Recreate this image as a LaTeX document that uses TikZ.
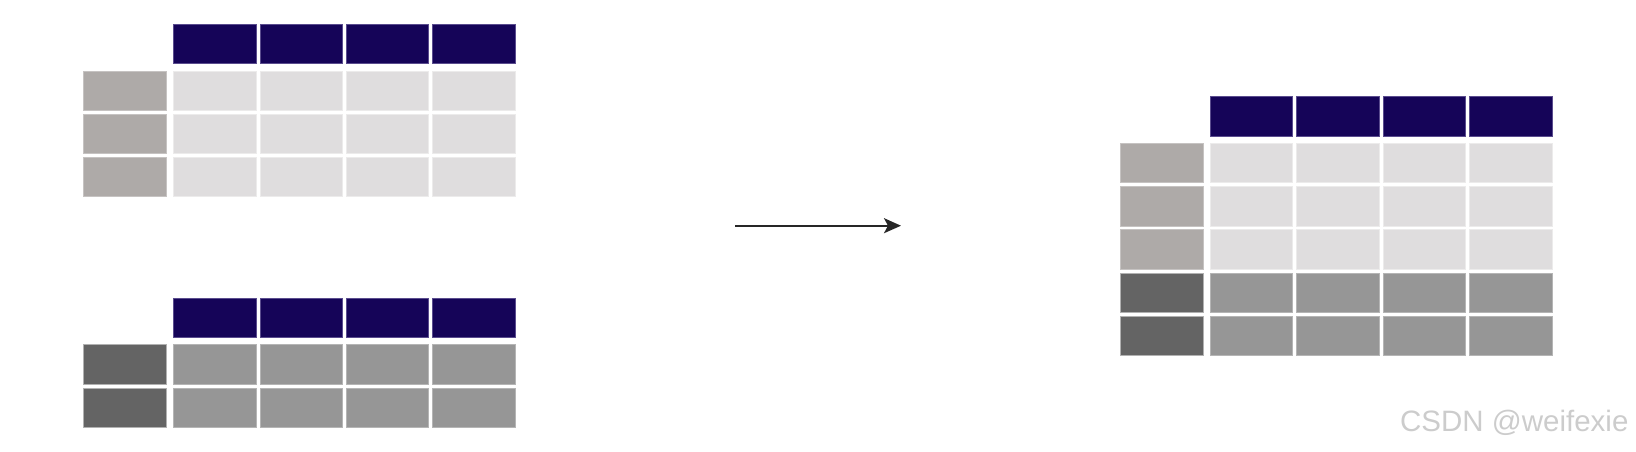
\documentclass[tikz,border=0pt]{standalone}
\usepackage{fontspec}
\setmainfont{Liberation Sans}
\usetikzlibrary{arrows.meta}
\definecolor{hdr}{HTML}{150458}
\definecolor{hdredge}{HTML}{5A4C8E}
\definecolor{lightcell}{HTML}{DFDDDE}
\definecolor{lightidx}{HTML}{AEAAA8}
\definecolor{darkcell}{HTML}{969696}
\definecolor{darkidx}{HTML}{646464}
\definecolor{wm}{HTML}{CCCCCC}
\tikzset{
  cellbox/.style={anchor=north west, inner sep=0pt, outer sep=0pt, minimum width=82.4pt, minimum height=39.4pt, line width=0.6pt},
  hdrcell/.style={cellbox, fill=hdr, draw=hdredge},
  lcell/.style={cellbox, fill=lightcell, draw=lightcell!60!white},
  lidx/.style={cellbox, fill=lightidx, draw=lightidx!70!white, minimum width=82.8pt},
  dcell/.style={cellbox, fill=darkcell, draw=darkcell!70!white},
  didx/.style={cellbox, fill=darkidx, draw=darkidx!50!white, minimum width=82.8pt},
  flow/.style={line width=2pt, draw=black!85, -{Stealth[length=17pt,width=15pt,inset=4pt]}},
  watermark/.style={font=\fontsize{29.5}{31}\selectfont, text=wm}
}
\begin{document}
\begin{tikzpicture}[x=1pt,y=-1pt]
\useasboundingbox (0,0) rectangle (1636,452);
% top-left table
\foreach \c in {0,...,3}{
  \node[hdrcell] (ah\c) at ({173.6+86.3*\c},24.3) {};
}
\foreach \r/\y in {0/71.3,1/114.3,2/157.3}{
  \node[lidx] (ai\r) at (83.6,\y) {};
  \foreach \c in {0,...,3}{
    \node[lcell] (a\r\c) at ({173.6+86.3*\c},\y) {};
  }
}
% bottom-left table
\foreach \c in {0,...,3}{
  \node[hdrcell] (bh\c) at ({173.6+86.3*\c},298.3) {};
}
\foreach \r/\y in {0/344.6,1/387.8}{
  \node[didx] (bi\r) at (83.6,\y) {};
  \foreach \c in {0,...,3}{
    \node[dcell] (b\r\c) at ({173.6+86.3*\c},\y) {};
  }
}
% right table
\foreach \c in {0,...,3}{
  \node[hdrcell] (ch\c) at ({1210.3+86.4*\c},96.6) {};
}
\foreach \r/\y in {0/143.3,1/186.5,2/229.6}{
  \node[lidx] (ci\r) at (1120.3,\y) {};
  \foreach \c in {0,...,3}{
    \node[lcell] (c\r\c) at ({1210.3+86.4*\c},\y) {};
  }
}
\foreach \r/\y in {3/272.8,4/315.8}{
  \node[didx] (ci\r) at (1120.3,\y) {};
  \foreach \c in {0,...,3}{
    \node[dcell] (c\r\c) at ({1210.3+86.4*\c},\y) {};
  }
}
% arrow
\coordinate (arrs) at (735,225.7);
\coordinate (arre) at (901,225.7);
\draw[flow] (arrs) -- (arre);
% watermark
\node[watermark, anchor=east] (wmark) at (1632,423) {CSDN @weifexie};
\end{tikzpicture}
\end{document}
